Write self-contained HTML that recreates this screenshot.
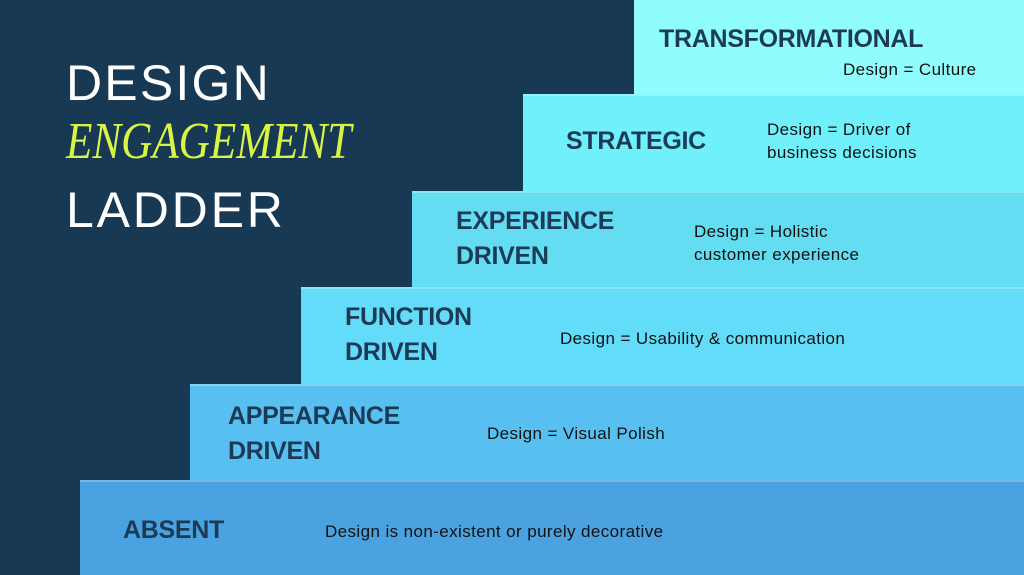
<!DOCTYPE html>
<html><head><style>
body{margin:0;width:1024px;height:575px;background:#183954;position:relative;overflow:hidden;font-family:"Liberation Sans",sans-serif}
.s{position:absolute;right:0;border-top:2px solid rgba(255,255,255,0.25)}
.l{position:absolute;font-weight:bold;color:#1c3a56;font-size:25px;line-height:35px;letter-spacing:-0.3px}
.d{position:absolute;color:#111;font-size:17px;line-height:23px;letter-spacing:0.4px}
.t{position:absolute;color:#fff;font-size:50px;left:66px;letter-spacing:2.2px}
</style></head><body>
<div class="t" style="top:54px">DESIGN</div>
<div class="t" style="top:112px;color:#d8f545;font-family:'Liberation Serif',serif;font-style:italic;font-size:52px;transform:scaleX(0.83);transform-origin:left;letter-spacing:0">ENGAGEMENT</div>
<div class="t" style="top:181px;letter-spacing:2.8px">LADDER</div>

<div class="s" style="left:634px;top:0;height:94px;background:#8ffdfd;border:0"></div>
<div class="s" style="left:523px;top:94px;height:95px;background:#70f0fa"></div>
<div class="s" style="left:412px;top:191px;height:94px;background:#64dcf2"></div>
<div class="s" style="left:301px;top:287px;height:95px;background:#62dcf8"></div>
<div class="s" style="left:190px;top:384px;height:94px;background:#58c0f0"></div>
<div class="s" style="left:80px;top:480px;height:93px;background:#4aa3e0"></div>

<div class="l" style="left:659px;top:22px">TRANSFORMATIONAL</div>
<div class="d" style="left:843px;top:58px">Design = Culture</div>
<div class="l" style="left:566px;top:124px">STRATEGIC</div>
<div class="d" style="left:767px;top:118px">Design = Driver of<br>business decisions</div>
<div class="l" style="left:456px;top:204px">EXPERIENCE<br>DRIVEN</div>
<div class="d" style="left:694px;top:220px">Design = Holistic<br>customer experience</div>
<div class="l" style="left:345px;top:300px">FUNCTION<br>DRIVEN</div>
<div class="d" style="left:560px;top:327px">Design = Usability &amp; communication</div>
<div class="l" style="left:228px;top:399px">APPEARANCE<br>DRIVEN</div>
<div class="d" style="left:487px;top:422px">Design = Visual Polish</div>
<div class="l" style="left:123px;top:513px">ABSENT</div>
<div class="d" style="left:325px;top:520px">Design is non-existent or purely decorative</div>
</body></html>
